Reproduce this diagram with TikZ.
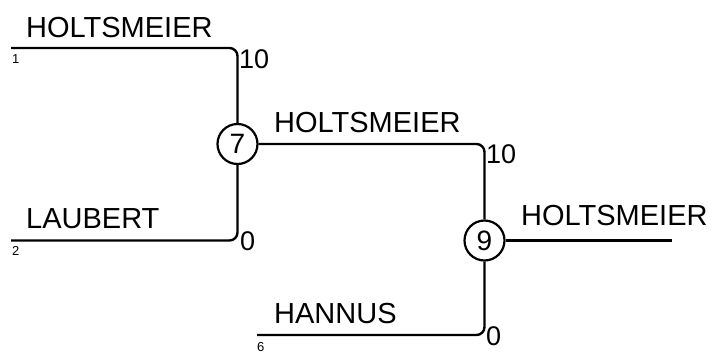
\documentclass[tikz,border=0pt]{standalone}
\usepackage{fontspec}
\setmainfont{Liberation Sans}
\begin{document}
\begin{tikzpicture}[x=1bp,y=-1bp,
  wire/.style={line width=2.4bp,rounded corners=8bp},
  matchnode/.style={circle,draw,line width=2.2bp,minimum size=40bp,inner sep=0pt,font=\fontsize{28bp}{30bp}\selectfont},
  playerlbl/.style={anchor=base west,inner sep=0pt,font=\fontsize{29bp}{32bp}\selectfont},
  scorelbl/.style={anchor=base west,inner sep=0pt,font=\fontsize{27bp}{30bp}\selectfont},
  seedlbl/.style={anchor=base west,inner sep=0pt,font=\fontsize{13bp}{15bp}\selectfont}]
\useasboundingbox (0,0) rectangle (711,351);
\node[matchnode] (n7) at (237.5,144) {7};
\node[matchnode] (n9) at (484.5,240.5) {9};
\coordinate (s1) at (11,48);
\coordinate (s2) at (11,240.5);
\coordinate (s6) at (257,335);
\coordinate (e9) at (672,240.5);
\draw[wire] (s1) -| (n7);
\draw[wire] (s2) -| (n7);
\draw[wire] (n7) -| (n9);
\draw[wire] (s6) -| (n9);
\draw[wire] (n9) -- (e9);
\node[playerlbl] (l1) at (26,37) {HOLTSMEIER};
\node[playerlbl] (l2) at (26,228) {LAUBERT};
\node[playerlbl] (l7) at (274,132) {HOLTSMEIER};
\node[playerlbl] (l6) at (274,323) {HANNUS};
\node[playerlbl] (l9) at (521,225) {HOLTSMEIER};
\node[scorelbl] (c1) at (239,68) {10};
\node[scorelbl] (c2) at (240,250) {0};
\node[scorelbl] (c7) at (486,163) {10};
\node[scorelbl] (c6) at (486,345.5) {0};
\node[seedlbl] (d1) at (12,63) {1};
\node[seedlbl] (d2) at (12,255) {2};
\node[seedlbl] (d6) at (257,351) {6};
\end{tikzpicture}
\end{document}
